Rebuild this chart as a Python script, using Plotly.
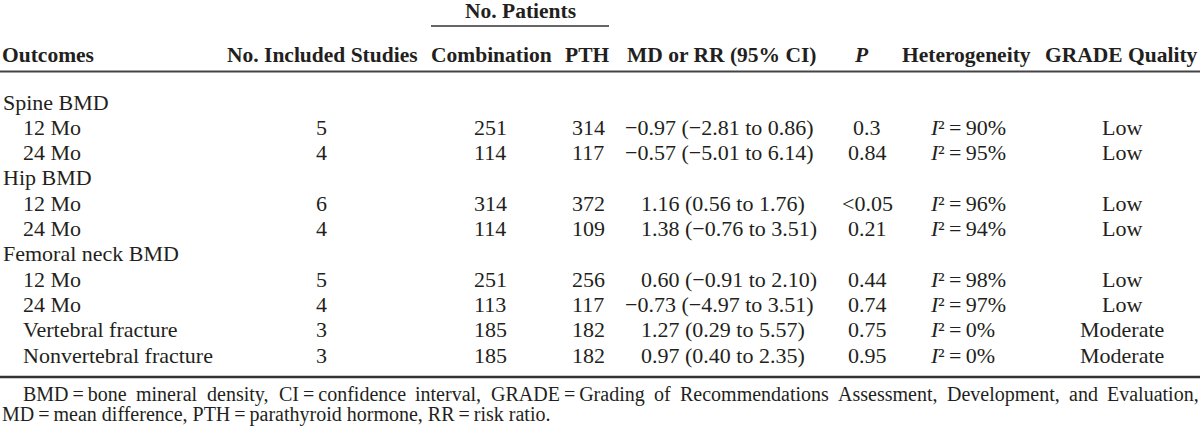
import plotly.graph_objects as go

# ---- data ----
outcomes = ["Spine BMD", "12 Mo", "24 Mo", "Hip BMD", "12 Mo", "24 Mo",
            "Femoral neck BMD", "12 Mo", "24 Mo", "Vertebral fracture", "Nonvertebral fracture"]
indent = [0, 1, 1, 0, 1, 1, 0, 1, 1, 1, 1]
studies = ["", "5", "4", "", "6", "4", "", "5", "4", "3", "3"]
combination = ["", "251", "114", "", "314", "114", "", "251", "113", "185", "185"]
pth = ["", "314", "117", "", "372", "109", "", "256", "117", "182", "182"]
md_rr = ["", "−0.97 (−2.81 to 0.86)", "−0.57 (−5.01 to 6.14)", "",
         "1.16 (0.56 to 1.76)", "1.38 (−0.76 to 3.51)", "",
         "0.60 (−0.91 to 2.10)", "−0.73 (−4.97 to 3.51)",
         "1.27 (0.29 to 5.57)", "0.97 (0.40 to 2.35)"]
p_vals = ["", "0.3", "0.84", "", "<0.05", "0.21", "", "0.44", "0.74", "0.75", "0.95"]
i2 = [None, 90, 95, None, 96, 94, None, 98, 97, 0, 0]
grade = ["", "Low", "Low", "", "Low", "Low", "", "Low", "Low", "Moderate", "Moderate"]

headers = ["Outcomes", "No. Included Studies", "Combination", "PTH",
           "MD or RR (95% CI)", "P", "Heterogeneity", "GRADE Quality"]
header_italic = [False, False, False, False, False, True, False, False]
group_header = "No. Patients"
TS = "\u2009"
footnote1_words = ["BMD" + TS + "=" + TS + "bone", "mineral", "density,",
                   "CI" + TS + "=" + TS + "confidence", "interval,",
                   "GRADE" + TS + "=" + TS + "Grading", "of", "Recommendations",
                   "Assessment,", "Development,", "and", "Evaluation,"]
footnote2 = ("MD" + TS + "=" + TS + "mean difference, PTH" + TS + "=" + TS +
             "parathyroid hormone, RR" + TS + "=" + TS + "risk ratio.")

# ---- layout constants ----
W, H = 1200, 433
FONT = "Liberation Serif"
FS = 22
HFS = 21.5
NFS = 20
COLOR = "#231f20"
col_x = [2, 321, 490, 588, 640, 867, 929, 1122]
head_x = [1, 322, 491, 587, 722, 861, 966, 1121]
row_y0, row_dy = 102, 25.3
header_y = 55

# Times-Roman advance widths (per 1000 em) for justified footnote layout
TW = {' ': 250, ',': 250, '.': 250, '=': 564, TS: 200,
      'a': 444, 'b': 500, 'c': 444, 'd': 500, 'e': 444, 'f': 333, 'g': 500, 'h': 500,
      'i': 278, 'j': 278, 'k': 500, 'l': 278, 'm': 778, 'n': 500, 'o': 500, 'p': 500,
      'q': 500, 'r': 333, 's': 389, 't': 278, 'u': 500, 'v': 500, 'w': 722, 'x': 500,
      'y': 500, 'z': 444, 'A': 722, 'B': 667, 'C': 667, 'D': 722, 'E': 611, 'G': 722,
      'I': 333, 'M': 889, 'R': 667}


def text_w(s, size):
    return sum(TW.get(ch, 500) for ch in s) * size / 1000.0


fig = go.Figure()
ann = []


def add(text, x, y, anchor="center", bold=False, italic=False, size=FS):
    if not text:
        return
    ann.append(dict(text=text, x=x, y=y, xref="x", yref="y", xanchor=anchor,
                    yanchor="middle", showarrow=False, borderpad=0,
                    font=dict(family=FONT, size=size, color=COLOR,
                              weight="bold" if bold else "normal",
                              style="italic" if italic else "normal")))


add(group_header, 520, 11, bold=True, size=HFS)
for i, h in enumerate(headers):
    add(h, head_x[i], header_y, anchor="left" if i == 0 else "center",
        bold=True, italic=header_italic[i], size=HFS)

I_W = 8.0  # advance of the italic "I" before its superscript
for r in range(len(outcomes)):
    y = row_y0 + r * row_dy
    add(outcomes[r], col_x[0] + 20 * indent[r], y, anchor="left")
    add(studies[r], col_x[1], y)
    add(combination[r], col_x[2], y)
    add(pth[r], col_x[3], y)
    if md_rr[r]:
        # align on the leading estimate; a leading minus hangs to the left
        x_md = col_x[4] - (16 if md_rr[r].startswith("−") else 0)
        add(md_rr[r], x_md, y, anchor="left")
    add(p_vals[r].replace("<", "&lt;"), col_x[5], y)
    if i2[r] is not None:
        add("I", col_x[6], y, anchor="left", italic=True)
        add("\u00b2" + TS + "=" + TS + "%d%%" % i2[r], col_x[6] + I_W, y, anchor="left")
    add(grade[r], col_x[7], y)

# justified first footnote line
x_start, x_end = 22, 1198
widths = [text_w(w, NFS) for w in footnote1_words]
gap = (x_end - x_start - sum(widths)) / (len(footnote1_words) - 1)
x = x_start
for w, wd in zip(footnote1_words, widths):
    add(w, x, 394, anchor="left", size=NFS)
    x += wd + gap
add(footnote2, 1, 414, anchor="left", size=NFS)

shapes = [
    dict(type="line", x0=431, x1=609, y0=26, y1=26, xref="x", yref="y",
         line=dict(color="#333333", width=1.5)),
    dict(type="line", x0=0, x1=1200, y0=71.5, y1=71.5, xref="x", yref="y",
         line=dict(color="#444444", width=2)),
    dict(type="line", x0=0, x1=1200, y0=377, y1=377, xref="x", yref="y",
         line=dict(color="#333333", width=2.5)),
]

fig.update_layout(
    width=W, height=H, margin=dict(l=0, r=0, t=0, b=0),
    paper_bgcolor="white", plot_bgcolor="white",
    xaxis=dict(range=[0, W], visible=False, fixedrange=True),
    yaxis=dict(range=[H, 0], visible=False, fixedrange=True),
    annotations=ann, shapes=shapes, showlegend=False,
)
fig.write_html("out.html", config={"displayModeBar": False},
               post_script="document.body.style.margin='0';")
